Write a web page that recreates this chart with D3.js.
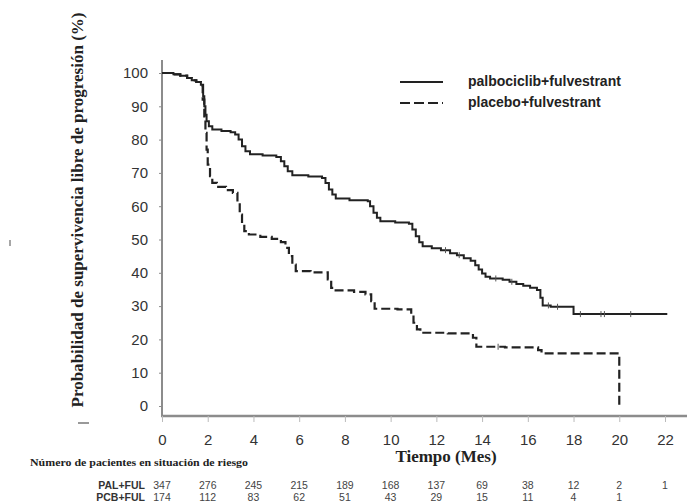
<!DOCTYPE html>
<html><head><meta charset="utf-8">
<script src="https://cdn.jsdelivr.net/npm/d3@7"></script>
<style>body{margin:0;background:#fff}svg{display:block}</style>
</head><body>
<script>
// ---- data ----
const palTime = [0,0.5,0.8,1.1,1.3,1.5,1.7,1.8,1.85,1.9,1.95,2.05,2.2,2.6,3.0,3.2,3.35,3.5,3.65,3.85,4.4,5.0,5.2,5.35,5.5,5.7,6.4,7.0,7.15,7.3,7.45,7.6,8.2,9.0,9.1,9.25,9.4,9.55,10.2,10.8,10.95,11.1,11.25,11.4,11.8,12.2,12.6,12.9,13.2,13.5,13.7,13.85,14.0,14.15,14.35,14.9,15.2,15.5,15.8,16.1,16.4,16.55,16.65,17.0,18.0,22.1];
const palSurv = [100,99.6,99.2,98.5,97.8,97.3,96.5,93,90,87.5,85.5,84,83,82.6,82.2,81.5,80,78,76.5,75.6,75.2,74.8,73.5,72,70.5,69.3,68.9,68.5,67,65,63.5,62.3,61.8,61.5,60,58,56.5,55.5,55.1,54.7,53,51,49.2,48,47.4,46.8,45.9,45.3,44.4,43.6,42.3,41,39.8,38.8,38.3,37.9,37.3,36.6,36.1,35.5,34.8,32.5,30.2,29.8,27.6,27.6];
const pcbTime = [0,0.5,0.8,1.1,1.3,1.5,1.7,1.78,1.85,1.9,1.95,2.0,2.1,2.2,2.4,2.8,3.1,3.3,3.4,3.5,3.6,3.8,4.3,4.8,5.2,5.4,5.55,5.7,5.85,6.5,7.25,7.4,7.5,8.4,8.9,9.15,9.3,10.3,10.9,11.0,11.15,11.3,12.5,13.6,13.75,15.0,16.45,16.6,20.0];
const pcbSurv = [100,99.6,99.2,98.5,97.8,97.3,96.2,92,87,82,77,72.5,69,67,65.8,64.8,64,61,57.5,54.5,52.5,51.5,50.8,50.2,49.2,47.5,45,42.5,40.5,40.1,38,35.5,34.7,34.3,33.5,31.5,29.2,29,27.5,25,23,22,21.8,20.5,17.8,17.6,16.8,15.8,0];
const palCensor = [12.4,13.0,14.6,15.3,16.9,17.3,18.3,19.2,19.35,20.5];
const pcbCensor = [14.7];
const xTicks = [0,2,4,6,8,10,12,14,16,18,20,22];
const yTicks = [0,10,20,30,40,50,60,70,80,90,100];
const riskTimes = [0,2,4,6,8,10,12,14,16,18,20,22];
const palRisk = [347,276,245,215,189,168,137,69,38,12,2,1];
const pcbRisk = [174,112,83,62,51,43,29,15,11,4,1];
const seriesNames = ["palbociclib+fulvestrant","placebo+fulvestrant"];
const riskLabels = ["PAL+FUL","PCB+FUL"];

// ---- drawing ----
const W = 687, H = 504;
const svg = d3.select("body").append("svg").attr("width", W).attr("height", H);
const x = d3.scaleLinear().domain([0,22]).range([162,665]);
const y = d3.scaleLinear().domain([0,100]).range([406,73]);
const axisCol = "#8c8c8c", ink = "#222";

// y axis
svg.append("line").attr("x1",162).attr("x2",162).attr("y1",60).attr("y2",417)
  .attr("stroke",axisCol).attr("stroke-width",2);
const ya = svg.append("g").attr("transform","translate(162,0)")
  .call(d3.axisLeft(y).tickValues(yTicks).tickSize(3).tickPadding(4));
ya.select(".domain").remove();
ya.selectAll("line").attr("stroke",axisCol);
ya.selectAll("text").attr("font-family","Liberation Sans, Arial, sans-serif")
  .attr("font-size",15).attr("fill","#333").attr("x",-14);

// x axis
svg.append("line").attr("x1",161).attr("x2",687).attr("y1",416).attr("y2",416)
  .attr("stroke",axisCol).attr("stroke-width",2.5);
const xa = svg.append("g").attr("transform","translate(0,416)")
  .call(d3.axisBottom(x).tickValues(xTicks).tickSize(6).tickPadding(12));
xa.select(".domain").remove();
xa.selectAll("line").attr("stroke","#bbb");
xa.selectAll("text").attr("font-family","Liberation Sans, Arial, sans-serif")
  .attr("font-size",15).attr("fill","#333");

// curves
const line = d3.line().x(d=>x(d[0])).y(d=>y(d[1])).curve(d3.curveStepAfter);
const pal = palTime.map((t,i)=>[t,palSurv[i]]);
const pcb = pcbTime.map((t,i)=>[t,pcbSurv[i]]);
svg.append("path").attr("d",line(pal)).attr("fill","none").attr("stroke",ink).attr("stroke-width",2);
svg.append("path").attr("d",line(pcb)).attr("fill","none").attr("stroke",ink).attr("stroke-width",2.2)
  .attr("stroke-dasharray","9,4");

function stepVal(times, vals, t){ const i = d3.bisectRight(times, t) - 1; return vals[Math.max(0,i)]; }
svg.selectAll(".cpal").data(palCensor).enter().append("line")
  .attr("x1",d=>x(d)).attr("x2",d=>x(d))
  .attr("y1",d=>y(stepVal(palTime,palSurv,d))-3).attr("y2",d=>y(stepVal(palTime,palSurv,d))+3)
  .attr("stroke","#555").attr("stroke-width",1);
svg.selectAll(".cpcb").data(pcbCensor).enter().append("line")
  .attr("x1",d=>x(d)).attr("x2",d=>x(d))
  .attr("y1",d=>y(stepVal(pcbTime,pcbSurv,d))-3).attr("y2",d=>y(stepVal(pcbTime,pcbSurv,d))+3)
  .attr("stroke","#555").attr("stroke-width",1);

// legend
const lg = svg.append("g");
lg.append("line").attr("x1",400).attr("x2",443).attr("y1",82).attr("y2",82).attr("stroke",ink).attr("stroke-width",2);
lg.append("line").attr("x1",400).attr("x2",443).attr("y1",103).attr("y2",103).attr("stroke",ink).attr("stroke-width",2.2).attr("stroke-dasharray","10,4");
lg.selectAll("text").data(seriesNames).enter().append("text")
  .attr("x",468).attr("y",(d,i)=>86+i*21).text(d=>d)
  .attr("font-family","Liberation Sans, Arial, sans-serif").attr("font-weight","bold")
  .attr("font-size",14).attr("fill",ink);

// axis titles
svg.append("text").attr("transform","translate(83,210) rotate(-90)").attr("text-anchor","middle")
  .attr("font-family","Liberation Serif, Times New Roman, serif").attr("font-weight","bold")
  .attr("font-size",16).attr("fill",ink)
  .attr("textLength",395).attr("lengthAdjust","spacingAndGlyphs")
  .text("Probabilidad de supervivencia libre de progresión (%)");
svg.append("text").attr("x",446).attr("y",462).attr("text-anchor","middle")
  .attr("font-family","Liberation Serif, Times New Roman, serif").attr("font-weight","bold")
  .attr("font-size",17).attr("fill",ink).text("Tiempo (Mes)");
svg.append("text").attr("x",30).attr("y",466)
  .attr("font-family","Liberation Serif, Times New Roman, serif").attr("font-weight","bold")
  .attr("font-size",11).attr("fill",ink)
  .attr("textLength",218).attr("lengthAdjust","spacingAndGlyphs")
  .text("Número de pacientes en situación de riesgo");

// risk table
const rows = [palRisk, pcbRisk];
rows.forEach((r,ri)=>{
  const yy = 489 + ri*12;
  svg.append("text").attr("x",145).attr("y",yy).attr("text-anchor","end")
    .attr("font-family","Liberation Sans, Arial, sans-serif").attr("font-weight","bold")
    .attr("font-size",10.5).attr("fill","#333").text(riskLabels[ri]);
  svg.selectAll(".r"+ri).data(r).enter().append("text")
    .attr("x",(d,i)=>x(riskTimes[i])).attr("y",yy).attr("text-anchor","middle")
    .attr("font-family","Liberation Sans Narrow, Liberation Sans, Arial, sans-serif")
    .attr("font-size",10.5).attr("fill","#444").text(d=>d);
});

// stray marks of the scanned figure
svg.append("line").attr("x1",78).attr("x2",89).attr("y1",423).attr("y2",423).attr("stroke","#777").attr("stroke-width",1.5);
svg.append("line").attr("x1",10).attr("x2",10).attr("y1",240).attr("y2",246).attr("stroke","#888").attr("stroke-width",1.5);
</script>
</body></html>
